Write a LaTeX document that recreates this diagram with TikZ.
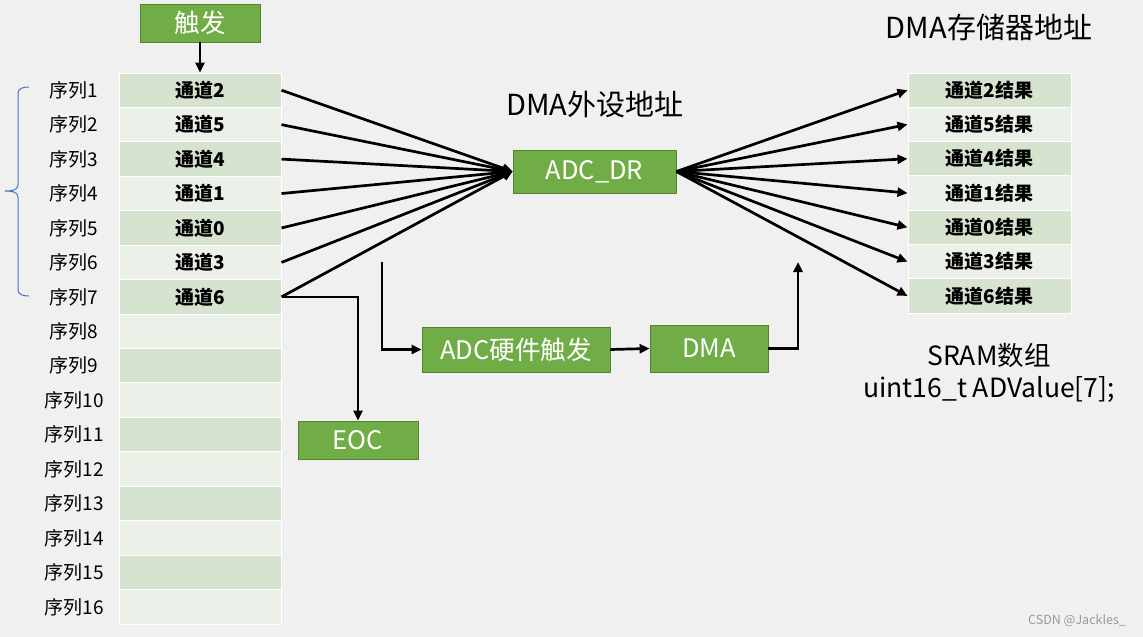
\documentclass[tikz,border=0pt]{standalone}
\usepackage{fontspec}
\setmainfont{Noto Sans CJK SC}
\usetikzlibrary{arrows.meta}
\definecolor{bg}{HTML}{F0F0F0}
\definecolor{cellA}{HTML}{D5E3CF}
\definecolor{cellB}{HTML}{EBF0E8}
\definecolor{gfill}{HTML}{70AD47}
\definecolor{gline}{HTML}{548235}
\definecolor{bracec}{HTML}{4472C4}
\tikzset{
  cell/.style={draw=white, line width=1pt, minimum height=34.4pt, inner sep=0pt, font=\fontsize{19}{19}\selectfont\bfseries},
  lbl/.style={inner sep=0pt, font=\fontsize{19}{19}\selectfont},
  gbox/.style={draw=gline, fill=gfill, line width=0.8pt, text=white, inner sep=0pt, font=\fontsize{25.5}{25.5}\selectfont},
  title/.style={inner sep=0pt, font=\fontsize{29}{29}\selectfont},
  arr/.style={line width=2.7pt, -{Triangle[length=10pt,width=9pt]}},
}
\begin{document}
\begin{tikzpicture}[x=1pt,y=-1pt]
\useasboundingbox[fill=bg] (0,0) rectangle (1143,637);
% left table
\foreach \i in {1,...,16}{
  \ifodd\i\def\cc{cellA}\else\def\cc{cellB}\fi
  \pgfmathsetmacro\yy{73+34.44*(\i-0.5)}
  \node[cell, fill=\cc, minimum width=162pt] (L\i) at (200,\yy) {};
  \node[lbl] (S\i) at (74,\yy) {序列\i};
}
\foreach \t [count=\i] in {2,5,4,1,0,3,6}{
  \node[inner sep=0pt, font=\fontsize{19}{19}\selectfont\bfseries] at (L\i) {通道\t};
}
% right table
\foreach \t [count=\i] in {2,5,4,1,0,3,6}{
  \ifodd\i\def\cc{cellA}\else\def\cc{cellB}\fi
  \pgfmathsetmacro\yy{73+34.3*(\i-0.5)}
  \node[cell, fill=\cc, minimum width=163pt, minimum height=34.3pt] (R\i) at (989.5,\yy) {通道\t 结果};
}
% boxes
\node[gbox, minimum width=120pt, minimum height=38pt] (trig) at (200,23) {触发};
\node[gbox, minimum width=163pt, minimum height=43pt] (dr) at (594.5,171.5) {ADC\_DR};
\node[gbox, minimum width=188pt, minimum height=45pt] (hw) at (516,349.5) {ADC硬件触发};
\node[gbox, minimum width=118pt, minimum height=47pt] (dma) at (709,348.5) {DMA};
\node[gbox, minimum width=120pt, minimum height=38pt] (eoc) at (358,440) {EOC};
% titles
\node[title] (t1) at (595,105) {DMA外设地址};
\node[title] (t2) at (989,27) {DMA存储器地址};
\node[title, font=\fontsize{26.5}{26.5}\selectfont] (t3) at (989,355) {SRAM数组};
\node[title, font=\fontsize{26.5}{26.5}\selectfont] (t4) at (989,389) {uint16\_t ADValue[7];};
\node[inner sep=0pt, text=gray!80, font=\fontsize{12.5}{12.5}\selectfont] (wm) at (1077,621) {CSDN @Jackles\_};
% arrows
\draw[arr] (trig.south) -- (L1.north);
\foreach \i in {1,...,7}{
  \draw[arr] (L\i.east) -- (dr.west);
  \draw[arr] (dr.east) -- (R\i.west);
}
\draw[arr] (L7.east) -| (eoc.north);
\coordinate (hs) at (382,262);
\coordinate (de) at (798,262);
\draw[arr] (hs) |- (hw.west);
\draw[arr] (hw.east) -- (dma.west);
\draw[arr] (dma.east) -| (de);
% brace
\draw[bracec, line width=1pt] (29,87) to[out=180,in=90] (18,93) -- (18,185) to[out=-90,in=0] (5,191) to[out=0,in=90] (18,197) -- (18,290) to[out=-90,in=180] (29,296);
\end{tikzpicture}
\end{document}
